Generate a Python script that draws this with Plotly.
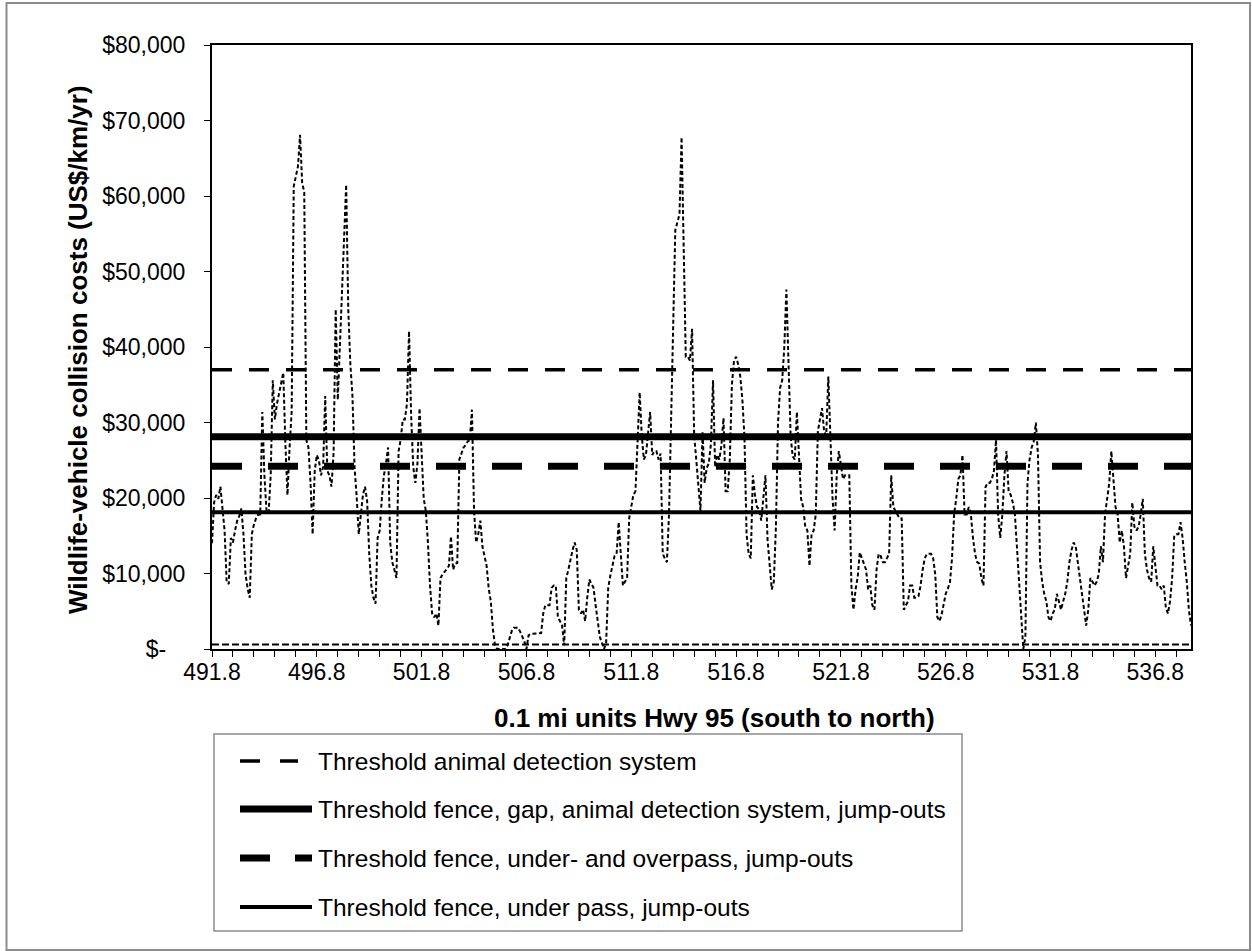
import plotly.graph_objects as go

# Wildlife-vehicle collision costs per 0.1 mi unit along Hwy 95 (US$ thousands / km / yr)
costs_k = [
    14.0, 19.4, 20.4, 19.9, 21.5, 18.8, 15.7, 8.9, 8.6, 14.7,
    14.1, 15.7, 17.0, 17.6, 18.6, 15.2, 9.9, 8.0, 6.8, 15.2,
    16.5, 17.3, 17.8, 17.8, 31.4, 23.0, 18.3, 18.0, 23.0, 35.6,
    30.4, 32.5, 34.0, 35.0, 36.6, 27.2, 20.4, 26.7, 31.4, 61.3,
    62.5, 63.9, 68.1, 61.8, 60.5, 27.7, 26.7, 22.0, 15.2, 23.6,
    25.7, 25.0, 23.0, 24.1, 33.5, 23.6, 23.0, 21.5, 26.0, 45.0,
    33.0, 40.0, 48.2, 53.4, 61.5, 45.0, 37.7, 33.5, 24.1, 20.2,
    15.2, 17.8, 20.4, 21.5, 19.6, 12.6, 8.4, 6.8, 6.0, 14.7,
    15.7, 19.9, 23.0, 24.6, 26.7, 14.1, 11.5, 10.5, 9.4, 26.2,
    27.7, 30.4, 30.4, 32.5, 42.1, 30.9, 24.1, 22.0, 24.6, 31.9,
    25.7, 19.9, 18.3, 14.1, 8.4, 4.7, 4.2, 4.7, 3.1, 9.4,
    9.9, 10.2, 10.6, 11.0, 14.9, 10.5, 11.3, 11.4, 25.1, 25.9,
    26.7, 27.0, 27.5, 27.7, 31.7, 18.3, 14.1, 15.2, 17.0, 13.6,
    12.5, 11.0, 8.0, 6.3, 2.6, 0.5, 0.0, 0.0, 0.0, 0.0,
    0.0, 0.5, 1.6, 2.4, 2.8, 2.8, 2.8, 2.3, 1.6, 1.0,
    0.0, 1.8, 2.0, 2.0, 2.1, 2.1, 2.1, 2.1, 4.7, 5.8,
    5.8, 5.8, 8.1, 8.4, 8.4, 4.2, 3.7, 3.1, 0.5, 9.4,
    10.5, 12.0, 13.1, 14.1, 13.1, 5.2, 4.7, 5.2, 3.7, 6.8,
    9.2, 8.6, 8.1, 5.8, 3.7, 1.6, 0.8, 0.0, 0.8, 8.1,
    9.7, 11.0, 12.3, 12.6, 16.8, 12.6, 8.4, 8.9, 9.4, 17.3,
    18.8, 20.4, 20.9, 27.7, 34.0, 28.3, 25.1, 25.7, 28.3, 31.4,
    25.7, 26.2, 26.2, 25.1, 25.9, 12.6, 12.0, 11.5, 17.8, 30.4,
    45.0, 55.5, 56.5, 57.6, 67.8, 51.3, 38.7, 38.7, 38.2, 42.4,
    28.3, 25.1, 21.5, 18.3, 28.8, 22.0, 24.0, 24.6, 27.2, 35.6,
    24.1, 25.7, 25.1, 27.0, 30.6, 20.9, 20.9, 25.1, 35.0, 38.2,
    38.7, 37.7, 36.1, 33.0, 28.0, 15.2, 12.6, 12.0, 23.0, 20.4,
    18.8, 18.5, 17.0, 19.9, 23.0, 14.5, 10.5, 7.9, 8.9, 16.2,
    30.0, 34.6, 35.6, 40.0, 47.6, 36.6, 28.3, 25.5, 25.1, 31.4,
    24.5, 19.9, 18.8, 16.2, 15.7, 11.0, 15.2, 15.7, 17.8, 28.8,
    30.4, 31.9, 28.8, 28.3, 36.1, 28.3, 20.0, 15.7, 23.0, 26.2,
    24.1, 22.5, 23.0, 23.0, 23.0, 8.4, 5.2, 7.9, 9.5, 12.8,
    12.0, 11.0, 10.5, 7.9, 8.4, 5.8, 5.2, 10.5, 12.6, 12.3,
    11.5, 11.5, 12.0, 12.6, 23.0, 18.8, 18.3, 17.8, 17.3, 17.3,
    5.2, 5.8, 6.3, 8.4, 8.4, 6.8, 6.8, 7.0, 8.4, 10.5,
    12.0, 12.6, 12.6, 12.6, 12.0, 9.9, 4.2, 3.7, 4.5, 5.8,
    7.3, 8.0, 8.8, 12.0, 17.8, 19.9, 22.5, 23.0, 25.7, 17.8,
    17.8, 18.8, 17.8, 14.7, 12.6, 11.5, 11.3, 9.4, 8.4, 21.5,
    22.0, 22.0, 22.5, 23.6, 27.7, 17.8, 14.7, 17.8, 23.0, 26.2,
    20.9, 20.4, 19.4, 17.8, 13.0, 9.0, 4.2, 0.0, 1.6, 22.0,
    25.1, 26.7, 27.5, 30.0, 25.7, 11.5, 8.9, 7.3, 6.3, 4.2,
    3.7, 4.7, 5.2, 7.3, 6.3, 5.2, 6.3, 7.3, 8.9, 11.5,
    13.1, 14.1, 13.6, 11.5, 9.9, 7.3, 5.5, 3.1, 5.2, 9.4,
    8.9, 8.4, 8.9, 9.9, 13.6, 11.5, 17.8, 19.9, 22.0, 26.2,
    23.0, 18.8, 17.8, 14.1, 15.7, 13.6, 9.4, 11.0, 12.6, 19.4,
    16.2, 15.7, 16.2, 17.8, 19.9, 12.6, 10.5, 9.4, 8.9, 13.6,
    10.5, 8.4, 8.4, 7.9, 8.4, 5.5, 4.7, 6.3, 9.4, 15.0,
    15.2, 15.2, 16.8, 14.7, 11.5, 8.9, 5.2, 3.1,
]

# Milepost of each 0.1 mi unit, starting at 491.8
first_milepost = 491.8
mileposts = [round(first_milepost + 0.1 * i, 1) for i in range(len(costs_k))]

# Cost thresholds (US$/km/yr) above which each mitigation measure pays for itself
threshold_names = [
    "Threshold animal detection system",
    "Threshold fence, gap, animal detection system, jump-outs",
    "Threshold fence, under- and overpass, jump-outs",
    "Threshold fence, under pass, jump-outs",
]
threshold_values = [37000, 28100, 24200, 18100]
baseline_value = 600  # thin dashed reference line near zero

# Axis ticks
y_tickvals = [0, 10000, 20000, 30000, 40000, 50000, 60000, 70000, 80000]
y_ticktext = ["$-\u2007\u00a0", "$10,000", "$20,000", "$30,000", "$40,000",
              "$50,000", "$60,000", "$70,000", "$80,000"]
x_tickvals = [round(first_milepost + k, 1) for k in range(47)]
x_ticktext = [f"{v:.1f}" if k % 5 == 0 else "" for k, v in enumerate(x_tickvals)]

threshold_styles = [
    dict(color="black", width=3.5, dash="20px,17px"),
    dict(color="black", width=7),
    dict(color="black", width=7, dash="30px,26px"),
    dict(color="black", width=4),
]
legend_sample_styles = [
    dict(color="black", width=3.5, dash="20px,20px"),
    dict(color="black", width=7),
    dict(color="black", width=7, dash="30px,25px"),
    dict(color="black", width=4),
]

W, H = 1252, 951
L, R, T, B = 212, 1191, 45, 649  # plot frame in pixels
FONT = "Arial, Liberation Sans, sans-serif"


def px(x):
    return (x - L) / (R - L)


def py(y):
    return (B - y) / (B - T)


fig = go.Figure()

for val, style in zip(threshold_values, threshold_styles):
    fig.add_trace(go.Scatter(
        x=[mileposts[0], mileposts[-1]], y=[val, val], mode="lines",
        line=style, hoverinfo="skip", showlegend=False,
    ))

fig.add_trace(go.Scatter(
    x=[mileposts[0], mileposts[-1]], y=[baseline_value, baseline_value],
    mode="lines", line=dict(color="black", width=2, dash="7px,3px"),
    hoverinfo="skip", showlegend=False,
))

fig.add_trace(go.Scatter(
    x=mileposts, y=[v * 1000 for v in costs_k], mode="lines",
    line=dict(color="black", width=2, dash="4px,2.5px"),
    showlegend=False,
))

shapes = []
annotations = []

# Outer chart border
shapes.append(dict(type="rect", xref="paper", yref="paper",
                   x0=px(6.5), x1=px(1250), y0=py(950), y1=py(3),
                   line=dict(color="#8c8c8c", width=2)))

# Legend box
leg_x0, leg_x1, leg_y0, leg_y1 = 214, 962, 734, 931
shapes.append(dict(type="rect", xref="paper", yref="paper",
                   x0=px(leg_x0), x1=px(leg_x1), y0=py(leg_y1), y1=py(leg_y0),
                   line=dict(color="#8c8c8c", width=1.5)))

leg_rows = [761, 809, 858, 907]
sample_ends = [298, 312, 312, 312]
for name, style, yrow, xend in zip(threshold_names, legend_sample_styles, leg_rows, sample_ends):
    shapes.append(dict(type="line", xref="paper", yref="paper",
                       x0=px(240), x1=px(xend), y0=py(yrow), y1=py(yrow),
                       line=style))
    annotations.append(dict(text=name, xref="paper", yref="paper",
                            x=px(316), y=py(yrow), xanchor="left", yanchor="middle",
                            showarrow=False, font=dict(family=FONT, size=24.5, color="black")))

# Axis titles
annotations.append(dict(text="<b>0.1 mi units Hwy 95 (south to north)</b>",
                        xref="paper", yref="paper", x=px(714), y=py(718),
                        xanchor="center", yanchor="middle", showarrow=False,
                        font=dict(family=FONT, size=26, color="black")))
annotations.append(dict(text="<b>Wildlife-vehicle collision costs (US$/km/yr)</b>",
                        xref="paper", yref="paper", x=px(78), y=py(350),
                        xanchor="center", yanchor="middle", textangle=-90,
                        showarrow=False,
                        font=dict(family=FONT, size=26, color="black")))

fig.update_layout(
    width=W, height=H,
    margin=dict(l=L, r=W - R, t=T, b=H - B, pad=0),
    paper_bgcolor="white", plot_bgcolor="white",
    showlegend=False,
    shapes=shapes, annotations=annotations,
    font=dict(family=FONT, color="black"),
    xaxis=dict(
        range=[mileposts[0], mileposts[-1]],
        tickmode="array", tickvals=x_tickvals, ticktext=x_ticktext,
        ticks="outside", ticklen=6, tickwidth=1, tickcolor="black",
        showline=True, linecolor="black", linewidth=2, mirror=True,
        showgrid=False, zeroline=False,
        tickfont=dict(family=FONT, size=23, color="black"),
        ticklabelstandoff=-5,
    ),
    yaxis=dict(
        range=[0, 80000],
        tickmode="array", tickvals=y_tickvals, ticktext=y_ticktext,
        ticks="outside", ticklen=6, tickwidth=1, tickcolor="black",
        showline=True, linecolor="black", linewidth=2, mirror=True,
        showgrid=False, zeroline=False,
        tickfont=dict(family=FONT, size=23, color="black"),
        ticklabelstandoff=14,
    ),
)

fig.write_html("out.html")
